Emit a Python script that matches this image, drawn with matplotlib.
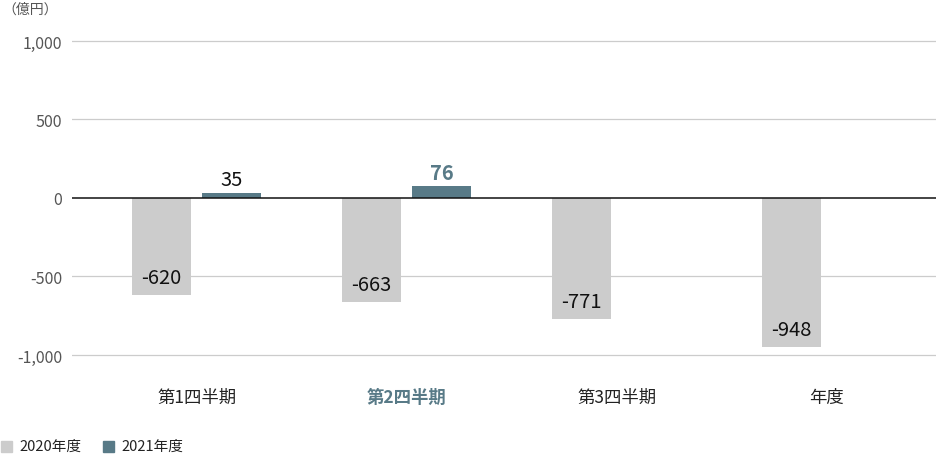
import matplotlib
matplotlib.use("Agg")
import matplotlib.pyplot as plt
import numpy as np
from matplotlib.patches import Rectangle

plt.rcParams['font.family'] = ['Noto Sans CJK JP', 'DejaVu Sans']

categories = ["第1四半期", "第2四半期", "第3四半期", "年度"]
series_names = ["2020年度", "2021年度"]
values_2020 = [-620, -663, -771, -948]
values_2021 = [35, 76, None, None]
yticks = [1000, 500, 0, -500, -1000]
ytick_labels = ["1,000", "500", "0", "-500", "-1,000"]
unit_label = "（億円）"

c2020 = "#cccccc"
c2021 = "#587a87"
highlight = 1

fig = plt.figure(figsize=(9.36, 4.56), dpi=100)
W, H = 936, 456
ax = fig.add_axes([72 / W, 1 - 384 / H, (936 - 72) / W, (384 - 20) / H])

# y scale: 0.157 px per unit, zero at ~199px
zero_px = 199
scale = 0.157
top_px, bot_px = 20, 384
ax.set_ylim(-(bot_px - zero_px) / scale, (zero_px - top_px) / scale)
ax.set_xlim(-0.593, 3.52)

x = np.arange(len(categories))
bw = 0.281
off = 0.1667

ax.bar(x - off, values_2020, width=bw, color=c2020, zorder=2)
x21 = [xi + off for xi, v in zip(x, values_2021) if v is not None]
v21 = [v for v in values_2021 if v is not None]
ax.bar(x21, v21, width=bw, color=c2021, zorder=2)

# data labels
for i, v in enumerate(values_2020):
    ax.annotate(f"{v}", (x[i] - off, v), xytext=(0, 5), textcoords="offset points",
                ha="center", va="bottom", fontsize=14.5, color="#111111", zorder=3)
for i, v in enumerate(values_2021):
    if v is None:
        continue
    hl = (i == highlight)
    ax.annotate(f"{v}", (x[i] + off, v), xytext=(0, 2), textcoords="offset points",
                ha="center", va="bottom", fontsize=14.5,
                color=c2021 if hl else "#111111",
                fontweight="bold" if hl else "normal", zorder=3)

ax.set_yticks(yticks)
ax.set_yticklabels(ytick_labels)
ax.tick_params(axis="y", length=0, pad=7, labelsize=11.5, labelcolor="#555555")
ax.set_xticks([])
for s in ax.spines.values():
    s.set_visible(False)
for t in yticks:
    if t == 0:
        ax.axhline(0, color="#111111", lw=1.1, zorder=4)
    else:
        ax.axhline(t, color="#cccccc", lw=0.9, zorder=1)

# category labels
cat_y = -(398 - zero_px) / scale
for i, c in enumerate(categories):
    hl = (i == highlight)
    ax.text(x[i], cat_y, c, ha="center", va="center",
            fontsize=12.5, color=c2021 if hl else "#222222",
            fontweight="bold" if hl else "normal")

fig.text(2 / W, 1 - 10 / H, unit_label, ha="left", va="center", fontsize=10, color="#555555")

# legend
leg_y = 447
for xs, name, col in [(1, series_names[0], c2020), (103, series_names[1], c2021)]:
    fig.patches.append(Rectangle((xs / W, 1 - (leg_y + 6) / H), 11 / W, 11 / H,
                                 transform=fig.transFigure, color=col, figure=fig))
    fig.text((xs + 18) / W, 1 - leg_y / H, name, ha="left", va="center",
             fontsize=10.5, color="#222222")

fig.savefig("out.png", dpi=100)
